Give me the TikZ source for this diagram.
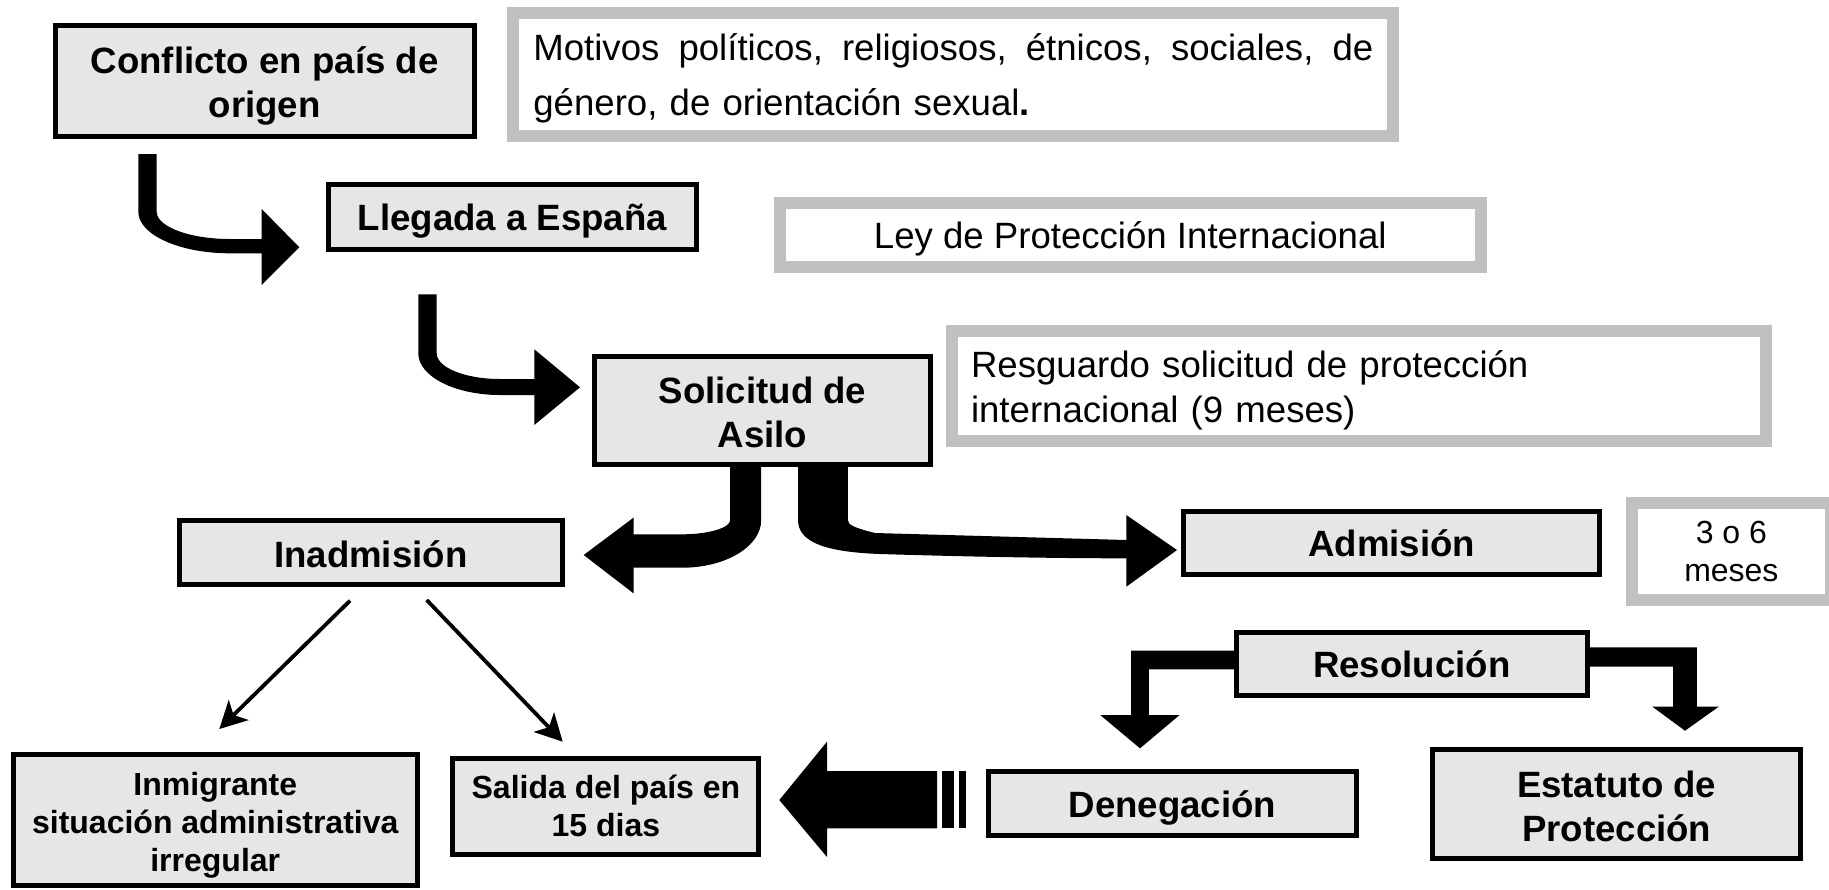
\documentclass[tikz,border=0pt]{standalone}
\usepackage{fontspec}
\setmainfont{Liberation Sans}
\usetikzlibrary{arrows.meta}
\definecolor{boxfill}{HTML}{E6E6E6}
\definecolor{framegray}{HTML}{C0C0C0}
\newcommand\sr[2]{\rule[-#2]{0pt}{\dimexpr#1+#2\relax}}
\newcommand\bigf{\fontsize{18.3}{22}\selectfont\bfseries\lineskiplimit=-10pt}
\newcommand\smallf{\fontsize{16}{19}\selectfont\bfseries\lineskiplimit=-10pt}
\tikzset{
  bbox/.style={draw=black, line width=2.5pt, fill=boxfill, inner sep=0pt, align=center, font=\bigf},
  gbox/.style={draw=framegray, line width=6pt, fill=white, inner sep=0pt},
  bigarrow/.style={fill=black},
  thinarrow/.style={line width=1.9pt, -{Stealth[length=13.5pt,width=14pt,inset=3.5pt]}},
}
\begin{document}
\begin{tikzpicture}[x=0.5pt,y=-0.5pt]
\useasboundingbox (0,0) rectangle (1829,889);
\clip (0,0) rectangle (1829,889);
\fill[white] (0,0) rectangle (1829,889);

% thick arrows
\fill[bigarrow] (138.3,154) -- (138.3,211.7) .. controls (138.3,234.7) and (179.4,253.3) .. (230,253.3) -- (261.7,253.3) -- (261.7,285) -- (299.3,247.3) -- (261.7,209) -- (261.7,239) -- (230,239) .. controls (189.5,239) and (156.7,226.8) .. (156.7,211.7) -- (156.7,154) -- cycle;
\fill[bigarrow] (418.3,294.3) -- (418.3,353.3) .. controls (418.3,376.3) and (454.9,395) .. (500,395) -- (534.3,395) -- (534.3,425) -- (580,387.3) -- (534.3,349.3) -- (534.3,379) -- (500,379) .. controls (465,379) and (436.7,367.5) .. (436.7,353.3) -- (436.7,294.3) -- cycle;
\fill[bigarrow] (761.2,463) -- (761.2,520) .. controls (761.2,546.3) and (725.9,567.7) .. (682,567.7) -- (633.5,567.7) -- (633.5,593.3) -- (583.7,555) -- (633.5,517.7) -- (633.5,534.3) -- (682,534.3) .. controls (708.6,534.3) and (730.2,527.9) .. (730.2,520) -- (730.2,463) -- cycle;
\fill[bigarrow] (798,463) -- (798,520) .. controls (798,542) and (825,552) .. (880,554) .. controls (960,556.5) and (1050,558.3) .. (1126.3,558.3) -- (1126.3,586.7) -- (1177,550) -- (1126.3,515) -- (1126.3,540) -- (875,533) .. controls (855,528) and (847.8,525) .. (847.8,520) -- (847.8,463) -- cycle;
\fill[bigarrow] (1240,650.7) -- (1131,650.7) -- (1131,715) -- (1100.2,715) -- (1140,748.3) -- (1179.6,715) -- (1148.8,715) -- (1148.8,669.3) -- (1240,669.3) -- cycle;
\fill[bigarrow] (1585,647.3) -- (1696.8,647.3) -- (1696.8,706.7) -- (1718.7,706.7) -- (1685,730.7) -- (1652.4,706.7) -- (1673,706.7) -- (1673,666.7) -- (1585,666.7) -- cycle;
\fill[bigarrow] (779.3,800) -- (827,741.7) -- (827,771) -- (937,771) -- (937,828.3) -- (827,828.3) -- (827,857) -- cycle;
\fill[bigarrow] (941.7,771) rectangle (954.3,828.3);
\fill[bigarrow] (958.7,771) rectangle (966,828.3);

% black boxes
\node[bbox, minimum width=209.6pt, minimum height=55.35pt] (conf) at (264.6,81.15) {\sr{19pt}{0pt}Conflicto en país de\\origen\sr{0pt}{4.25pt}};
\node[bbox, minimum width=184.15pt, minimum height=32.45pt] (lleg) at (512.35,217.35) {\sr{18pt}{4.65pt}Llegada a España};
\node[bbox, minimum width=168.3pt, minimum height=53.6pt] (soli) at (762.5,410.4) {\sr{19pt}{0pt}Solicitud de\\Asilo\sr{0pt}{3.9pt}};
\node[bbox, minimum width=191.5pt, minimum height=32pt] (inad) at (370.8,552.8) {\sr{18pt}{3.5pt}Inadmisión};
\node[bbox, minimum width=207.8pt, minimum height=31.65pt] (admi) at (1391.7,543.15) {\sr{18pt}{4.5pt}Admisión};
\node[bbox, minimum width=175.75pt, minimum height=31.65pt] (reso) at (1411.75,664.15) {\sr{18pt}{4.9pt}Resolución};
\node[bbox, minimum width=184.05pt, minimum height=32.15pt] (dene) at (1172.45,803.65) {\sr{18pt}{4pt}Denegación};
\node[bbox, minimum width=184.15pt, minimum height=54.5pt] (esta) at (1616.65,803.7) {\sr{19pt}{0pt}Estatuto de\\Protección\sr{0pt}{3.4pt}};
\node[bbox, font=\smallf, minimum width=153pt, minimum height=47.85pt] (sali) at (605.9,806.35) {\sr{16pt}{0pt}Salida del país en\\15 dias\sr{0pt}{5pt}};
\node[bbox, font=\smallf, minimum width=202.25pt, minimum height=65.65pt] (inmi) at (215.25,819.85) {\sr{17.5pt}{0pt}Inmigrante\\situación administrativa\\irregular\sr{0pt}{3.7pt}};

% gray boxes
\node[gbox, minimum width=440.05pt, minimum height=61.5pt, text width=420pt, align=left, font=\fontsize{18.3}{27.5}\selectfont] (moti) at (953.35,74.8) {\hbox to 420pt{\sr{17pt}{0pt}Motivos\hfill políticos,\hfill religiosos,\hfill étnicos,\hfill sociales,\hfill de}\\género, de orientación sexual\textbf{.}\sr{0pt}{4.3pt}};
\node[gbox, minimum width=350.25pt, minimum height=32pt, font=\fontsize{18.3}{22}\selectfont] (ley) at (1130.25,234.7) {\sr{18pt}{4.4pt}Ley de Protección Internacional};
\node[gbox, minimum width=407.2pt, minimum height=54.85pt, text width=387.8pt, align=left, font=\fontsize{18.3}{22.5}\selectfont] (resg) at (1358.8,385.85) {\sr{18.7pt}{0pt}Resguardo solicitud de protección\\internacional (9 meses)\sr{0pt}{4.85pt}};
\node[gbox, minimum width=99.65pt, minimum height=48.2pt, align=center, font=\fontsize{16}{19}\selectfont] (tres) at (1731.35,551.5) {\sr{12.5pt}{0pt}3 o 6\\meses\sr{0pt}{1.7pt}};

% thin arrows
\coordinate (t1s) at (350,600.7);
\coordinate (t1e) at (219.3,729);
\coordinate (t2s) at (426.7,600);
\coordinate (t2e) at (562.7,741.7);
\draw[thinarrow] (t1s) -- (t1e);
\draw[thinarrow] (t2s) -- (t2e);
\end{tikzpicture}
\end{document}
